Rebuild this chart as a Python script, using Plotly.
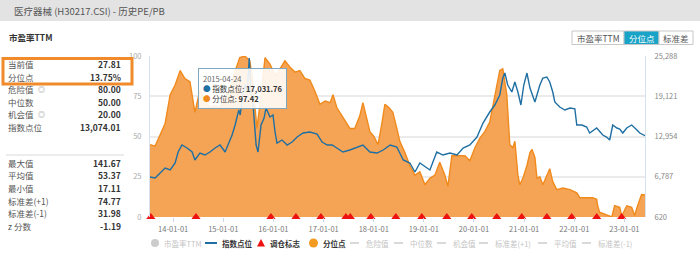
import plotly.graph_objects as go

# ---------------- data ----------------
pct_dates = ["2013-07-16","2013-08-22","2013-09-28","2013-11-03","2013-12-10","2014-01-15","2014-02-21","2014-03-27",
 "2014-05-03","2014-06-08","2014-07-15","2014-08-20","2014-09-26","2014-11-02","2014-12-08","2015-01-14","2015-02-19",
 "2015-03-25","2015-04-24","2015-05-01","2015-06-07","2015-07-13","2015-08-04","2015-09-03","2015-09-25","2015-11-01",
 "2015-12-07","2016-01-13","2016-02-18","2016-03-25","2016-05-01","2016-06-06","2016-07-12","2016-08-18","2016-09-23",
 "2016-10-30","2016-12-05","2017-01-12","2017-02-17","2017-03-10","2017-04-07","2017-04-29","2017-06-04","2017-07-11",
 "2017-08-16","2017-09-22","2017-10-14","2017-11-12","2017-12-04","2018-01-02","2018-02-01","2018-03-01","2018-03-23",
 "2018-04-21","2018-05-20","2018-06-18","2018-07-10","2018-08-16","2018-09-21","2018-10-28","2018-12-03","2019-01-09",
 "2019-02-14","2019-03-22","2019-04-27","2019-06-03","2019-06-25","2019-07-24","2019-09-06","2019-10-27","2019-12-02",
 "2020-01-08","2020-02-13","2020-03-20","2020-04-25","2020-06-01","2020-07-07","2020-07-29","2020-08-27","2020-09-18",
 "2020-10-10","2020-10-25","2020-11-16","2020-11-30","2020-12-22","2021-01-21","2021-02-12","2021-02-27","2021-03-20",
 "2021-04-04","2021-04-25","2021-05-17","2021-06-22","2021-07-06","2021-07-28","2021-08-26","2021-10-10","2021-12-01",
 "2022-01-19","2022-02-10","2022-04-01","2022-05-15","2022-06-13","2022-06-20","2022-07-04","2022-08-24","2022-10-01",
 "2022-10-22","2022-11-28","2022-12-12","2023-01-18","2023-02-23","2023-03-17","2023-04-07","2023-05-06","2023-05-31"]
pct_values = [45,44,51,58,76,82,91,86,
 84,65,79,72,68,69,68,74,80,
 90,97.42,99,100,97,84,55,70,99,
 95,88,92,97,93,90,91,86,85,
 78,70,72,71,76,68,65,60,55,
 55,63,71,60,53,50,45,58,70,
 68,65,55,47,40,32,26,28,20,
 24,26,34,26,19,38,38,38,35,
 43,49,53,59,76,91,92,76,45,
 43,47,26,20,24,32,40,42,37,
 24,25,20,28,30,22,17,18,17,
 15,12,12,12,11,7,3,1,0,
 7,6,0.5,7,6,1,7,14,13.75]

idx_dates = ["2013-07-16","2013-08-22","2013-09-28","2013-11-03","2013-12-10","2014-01-15","2014-02-06","2014-03-06",
 "2014-04-12","2014-05-19","2014-06-08","2014-07-15","2014-08-20","2014-09-26","2014-11-02","2014-12-08","2015-01-14",
 "2015-02-05","2015-03-06","2015-03-28","2015-04-24","2015-05-04","2015-05-26","2015-06-10","2015-06-24","2015-07-09",
 "2015-07-23","2015-08-06","2015-08-28","2015-09-11","2015-10-03","2015-10-25","2015-11-08","2015-12-07","2015-12-29",
 "2016-01-13","2016-01-27","2016-03-04","2016-04-10","2016-05-16","2016-06-22","2016-08-04","2016-09-23","2016-11-14",
 "2016-12-21","2017-01-27","2017-03-04","2017-04-07","2017-05-21","2017-07-11","2017-09-01","2017-10-14","2017-12-04",
 "2018-01-25","2018-03-11","2018-05-01","2018-06-18","2018-08-04","2018-09-21","2018-10-28","2018-12-03","2019-01-09",
 "2019-02-14","2019-04-05","2019-05-20","2019-07-10","2019-08-31","2019-10-14","2019-12-02","2020-01-23","2020-03-07",
 "2020-04-25","2020-06-01","2020-07-07","2020-07-29","2020-08-13","2020-09-03","2020-10-03","2020-10-25","2020-11-16",
 "2020-12-08","2020-12-29","2021-01-21","2021-02-12","2021-03-20","2021-04-25","2021-05-17","2021-06-15","2021-07-06",
 "2021-07-28","2021-08-12","2021-09-17","2021-10-24","2021-12-01","2022-01-05","2022-01-19","2022-02-25","2022-04-01",
 "2022-04-23","2022-06-13","2022-07-27","2022-08-24","2022-09-16","2022-10-08","2022-11-07","2022-11-28","2022-12-20",
 "2023-01-18","2023-02-23","2023-04-02","2023-04-23","2023-05-31"]
idx_values = [6748,6595,7361,8127,7821,8893,10578,11650,
 11191,10578,9352,10425,10118,10578,11191,11650,10578,
 11650,13182,14714,17031.76,16246,19770,20842,19770,24979,
 19310,17778,11650,10578,14714,15787,17319,15940,16246,
 13642,11957,12416,11650,12110,12876,13489,13642,13336,
 12110,11650,11650,11191,10578,10884,11344,11650,10578,
 10425,10884,11650,11344,9352,8893,7514,8893,8280,
 7821,10578,10118,10425,10118,11191,11650,12876,15021,
 16706,17778,19310,21915,22681,20842,19770,21302,19770,
 17778,20842,22681,20382,18238,20842,21915,22068,21302,
 19770,18238,17472,17012,17319,17200,14714,14714,14408,
 13489,14255,13182,12876,12416,14714,14255,14100,13489,
 14255,14714,13949,13489,13074.01]

rebalance_dates = ["2013-07-22","2014-06-16","2015-12-14","2016-06-13","2016-12-12","2017-06-12","2017-07-14",
 "2017-12-11","2018-06-11","2018-12-17","2019-06-17","2019-12-16","2020-06-15","2020-12-14","2021-06-15",
 "2021-12-13","2022-06-13","2022-12-12"]

left_ticks = [0, 25, 50, 75, 100]
right_ticks = [620, 6787, 12954, 19121, 25288]
right_tick_text = ["620", "6,787", "12,954", "19,121", "25,288"]

stat_labels = ["当前值", "分位点", "危险值", "中位数", "机会值", "指数点位"]
stat_values = ["27.81", "13.75%", "80.00", "50.00", "20.00", "13,074.01"]
stat2_labels = ["最大值", "平均值", "最小值", "标准差(+1)", "标准差(-1)", "z 分数"]
stat2_values = ["141.67", "53.37", "17.11", "74.77", "31.98", "-1.19"]

tooltip_date = "2015-04-24"
title = "医疗器械 (H30217.CSI) - 历史PE/PB"
subtitle = "市盈率TTM"
buttons = ["市盈率TTM", "分位点", "标准差"]

# ---------------- layout helpers (pixel -> paper) ----------------
W, H = 700, 255
L, R, T, B = 150, 645, 56, 217
def X(p): return (p - L) / (R - L)
def Y(p): return (B - p) / (B - T)

FONT = "Noto Sans CJK SC, Noto Sans, sans-serif"
ORANGE_LINE = "#f08a1c"
ORANGE_FILL = "#f5a455"
BLUE = "#1f6fa3"

fig = go.Figure()
fig.add_trace(go.Scatter(x=pct_dates, y=pct_values, mode="lines", yaxis="y",
                         line=dict(color=ORANGE_LINE, width=1.4), fill="tozeroy",
                         fillcolor=ORANGE_FILL, showlegend=False))
fig.add_trace(go.Scatter(x=idx_dates, y=idx_values, mode="lines", yaxis="y2",
                         line=dict(color=BLUE, width=1.4), showlegend=False))
fig.add_trace(go.Scatter(x=rebalance_dates, y=[0] * len(rebalance_dates), mode="markers", yaxis="y",
                         marker=dict(symbol="triangle-up", size=8, color="#ee1111"),
                         cliponaxis=False, showlegend=False))

shapes = []
ann = []

# header bar
shapes.append(dict(type="rect", xref="paper", yref="paper", x0=X(0), x1=X(W), y0=Y(0), y1=Y(21),
                   fillcolor="#e3e3e3", line=dict(width=0), layer="below"))
ann.append(dict(text=title, x=X(12), y=Y(10.5), xanchor="left", yanchor="middle",
                font=dict(size=9.5, color="#555")))
ann.append(dict(text="<b>" + subtitle + "</b>", x=X(7), y=Y(37), xanchor="left", yanchor="middle",
                font=dict(size=8.5, color="#333")))

# stats panel
rows1 = [64, 77, 89, 102, 114, 127]
for lab, val, yy in zip(stat_labels, stat_values, rows1):
    ann.append(dict(text=lab, x=X(6), y=Y(yy), xanchor="left", yanchor="middle",
                    font=dict(size=8.5, color="#555")))
    ann.append(dict(text="<b>" + val + "</b>", x=X(123), y=Y(yy), xanchor="right", yanchor="middle",
                    font=dict(size=8.5, color="#333")))
for yy in (rows1[2], rows1[4]):
    ann.append(dict(text="◎", x=X(36), y=Y(yy), xanchor="left", yanchor="middle",
                    font=dict(size=7, color="#888")))
shapes.append(dict(type="rect", xref="paper", yref="paper", x0=X(3), x1=X(132), y0=Y(58.5), y1=Y(84),
                   line=dict(color="#f08a2a", width=3)))
shapes.append(dict(type="line", xref="paper", yref="paper", x0=X(6), x1=X(124), y0=Y(155), y1=Y(155),
                   line=dict(color="#ececec", width=2)))
rows2 = [163, 175, 188, 201, 213, 226]
for lab, val, yy in zip(stat2_labels, stat2_values, rows2):
    ann.append(dict(text=lab, x=X(6), y=Y(yy), xanchor="left", yanchor="middle",
                    font=dict(size=8.5, color="#555")))
    ann.append(dict(text="<b>" + val + "</b>", x=X(123), y=Y(yy), xanchor="right", yanchor="middle",
                    font=dict(size=8.5, color="#333")))

# buttons
bx = [572, 624, 659, 693]
for i, lab in enumerate(buttons):
    active = (i == 1)
    shapes.append(dict(type="rect", xref="paper", yref="paper", x0=X(bx[i]), x1=X(bx[i + 1]),
                       y0=Y(31), y1=Y(44.5), fillcolor="#19a3c6" if active else "#ffffff",
                       line=dict(color="#c8c8c8", width=1)))
    ann.append(dict(text=lab, x=X((bx[i] + bx[i + 1]) / 2), y=Y(38), xanchor="center", yanchor="middle",
                    font=dict(size=8.5, color="#ffffff" if active else "#555")))

# tooltip
ti = pct_dates.index(tooltip_date)
bi = idx_dates.index(tooltip_date)
tip = (f"<span style='color:#666'>{tooltip_date}</span><br>"
       f"<span style='color:{BLUE}'>●</span> 指数点位: <b>{idx_values[bi]:,.2f}</b><br>"
       f"<span style='color:{ORANGE_LINE}'>●</span> 分位点: <b>{pct_values[ti]:.2f}</b>")
ann.append(dict(text=tip, x=X(198), y=Y(68), xanchor="left", yanchor="top", align="left",
                font=dict(size=7.5, color="#333"), bgcolor="rgba(255,255,255,0.88)",
                bordercolor="#7fa7bf", borderwidth=1, borderpad=4))

# custom legend
LY = 243
def legend_text(txt, x, color):
    ann.append(dict(text=txt, x=X(x), y=Y(LY), xanchor="left", yanchor="middle",
                    font=dict(size=7.5, color=color)))
shapes.append(dict(type="circle", xref="paper", yref="paper", x0=X(151), x1=X(159), y0=Y(LY - 4), y1=Y(LY + 4),
                   fillcolor="#cccccc", line=dict(width=0)))
legend_text("市盈率TTM", 162, "#c4c4c4")
shapes.append(dict(type="line", xref="paper", yref="paper", x0=X(205), x1=X(217), y0=Y(LY), y1=Y(LY),
                   line=dict(color=BLUE, width=2)))
legend_text("<b>指数点位</b>", 220, "#333")
shapes.append(dict(type="path", xref="paper", yref="paper",
                   path=f"M {X(257)} {Y(LY + 3.5)} L {X(265)} {Y(LY + 3.5)} L {X(261)} {Y(LY - 4)} Z",
                   fillcolor="#ee1111", line=dict(width=0)))
legend_text("<b>调仓标志</b>", 268, "#333")
shapes.append(dict(type="circle", xref="paper", yref="paper", x0=X(309), x1=X(318), y0=Y(LY - 4.5), y1=Y(LY + 4.5),
                   fillcolor="#f39a22", line=dict(width=0)))
legend_text("<b>分位点</b>", 321, "#333")
dash_items = [("危险值", 350), ("中位数", 394), ("机会值", 437), ("标准差(+1)", 479), ("平均值", 538), ("标准差(-1)", 582)]
for txt, x0 in dash_items:
    shapes.append(dict(type="line", xref="paper", yref="paper", x0=X(x0), x1=X(x0 + 11), y0=Y(LY), y1=Y(LY),
                       line=dict(color="#cccccc", width=1.5, dash="dashdot")))
    legend_text(txt, x0 + 14, "#c4c4c4")

fig.update_layout(
    width=W, height=H,
    margin=dict(l=L, r=W - R, t=T, b=H - B, pad=0),
    paper_bgcolor="#ffffff", plot_bgcolor="#ffffff",
    font=dict(family=FONT, size=8, color="#555"),
    hovermode=False, showlegend=False,
    xaxis=dict(type="date", range=[pct_dates[0], pct_dates[-1]], tickformat="%y-%m-%d",
               dtick="M12", tick0="2014-01-01", showgrid=False, ticks="outside", ticklen=4,
               tickcolor="#ccd6eb", tickfont=dict(size=7.5, color="#777"), showline=False,
               zeroline=False, ticklabelstandoff=1),
    yaxis=dict(range=[0, 100], tickvals=left_ticks, gridcolor="#ebebeb", gridwidth=1.5,
               showline=True, linecolor="#d6e2ee", linewidth=1, zeroline=False,
               tickfont=dict(size=7.5, color="#aaa"), ticklabelstandoff=6),
    yaxis2=dict(range=[620, 25288], tickvals=right_ticks, ticktext=right_tick_text, overlaying="y",
                side="right", showgrid=False, showline=True, linecolor="#d6e2ee", linewidth=1,
                zeroline=False, tickfont=dict(size=7.5, color="#888"), ticklabelstandoff=7),
    shapes=shapes,
    annotations=[dict(a, xref="paper", yref="paper", showarrow=False) for a in ann],
)

fig.write_html("out.html")
